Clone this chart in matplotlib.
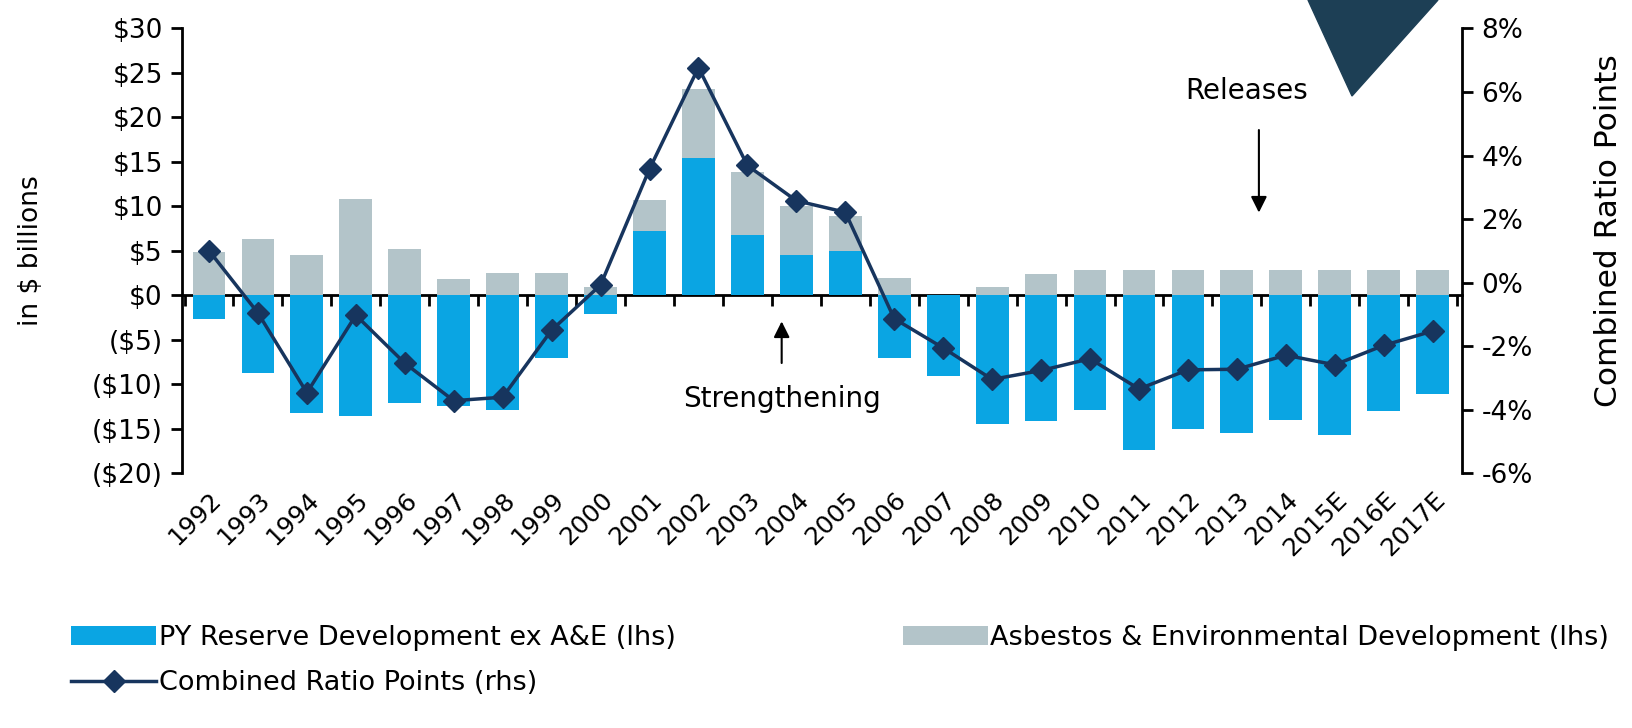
import matplotlib.pyplot as plt
from matplotlib.patches import Polygon
from matplotlib.ticker import FuncFormatter
import numpy as np

years = ["1992", "1993", "1994", "1995", "1996", "1997", "1998", "1999", "2000",
         "2001", "2002", "2003", "2004", "2005", "2006", "2007", "2008", "2009",
         "2010", "2011", "2012", "2013", "2014", "2015E", "2016E", "2017E"]
py_reserve = [-2.65, -8.7, -13.2, -13.5, -12.05, -12.4, -12.9, -7.0, -2.05,
              7.3, 15.5, 6.8, 4.5, 5.0, -7.0, -9.1, -14.4, -14.1,
              -12.9, -17.4, -15.0, -15.4, -14.0, -15.7, -13.0, -11.1]
asbestos = [4.9, 6.4, 4.6, 10.8, 5.2, 1.85, 2.5, 2.5, 1.0,
            3.4, 7.7, 7.1, 5.5, 3.9, 2.0, 0.0, 1.0, 2.4,
            2.9, 2.9, 2.9, 2.9, 2.9, 2.9, 2.9, 2.9]
ratio_pts = [1.01, -0.95, -3.46, -1.02, -2.53, -3.71, -3.6, -1.49, -0.07,
             3.58, 6.77, 3.69, 2.58, 2.22, -1.13, -2.05, -3.04, -2.76,
             -2.39, -3.34, -2.74, -2.72, -2.28, -2.58, -1.97, -1.52]

BLUE = '#0AA5E3'
GREY = '#B3C4C9'
NAVY = '#17355E'

fig = plt.figure(figsize=(16.33, 7.28), dpi=100)
ax = fig.add_axes([0.1115, 0.3496, 0.7838, 0.6113])

x = np.arange(len(years))
py = np.array(py_reserve)
ae = np.array(asbestos)
# grey stacks on the blue bar when that is positive, else starts at zero
ae_base = np.where(py > 0, py, 0)

b1 = ax.bar(x, py, width=0.67, color=BLUE, label='PY Reserve Development ex A&E (lhs)', zorder=2)
b2 = ax.bar(x, ae, bottom=ae_base, width=0.67, color=GREY,
            label='Asbestos & Environmental Development (lhs)', zorder=2)

ax.set_xlim(-0.55, len(years) - 0.4)
ax.set_ylim(-20, 30)
ax.set_yticks(np.arange(-20, 31, 5))
ax.yaxis.set_major_formatter(FuncFormatter(
    lambda v, p: f"${v:.0f}" if v >= 0 else f"(${-v:.0f})"))
ax.tick_params(axis='y', direction='out', length=8, width=2, labelsize=19, pad=6)
ax.set_ylabel('in $ billions', fontsize=19)
ax.yaxis.set_label_coords(-0.108, 0.5)

for s in ['top', 'right', 'bottom']:
    ax.spines[s].set_visible(False)
ax.spines['left'].set_linewidth(2)

ax.set_xticks(x)
ax.set_xticklabels(years, rotation=45, ha='right', rotation_mode='anchor', fontsize=18)
ax.tick_params(axis='x', length=0, pad=10)

# zero line with tick marks between the categories
zero = ax.secondary_xaxis(20 / 50)
zero.set_xticks(np.arange(-0.5, len(years), 1.0))
zero.set_xticklabels([])
zero.tick_params(direction='out', length=8, width=2)
zero.spines['bottom'].set_linewidth(2)

ax2 = ax.twinx()
ln, = ax2.plot(x, ratio_pts, color=NAVY, lw=2.5, marker='D', markersize=11,
               label='Combined Ratio Points (rhs)', zorder=3)
ax2.set_ylim(-6, 8)
ax2.set_yticks(np.arange(-6, 9, 2))
ax2.yaxis.set_major_formatter(FuncFormatter(lambda v, p: f"{v:.0f}%"))
ax2.tick_params(axis='y', direction='out', length=8, width=2, labelsize=19, pad=6)
ax2.set_ylabel('Combined Ratio Points', fontsize=22.5)
ax2.yaxis.set_label_coords(1.103, 0.545)
for s in ['top', 'left', 'bottom']:
    ax2.spines[s].set_visible(False)
ax2.spines['right'].set_linewidth(2)

ax.annotate('', xy=(21.45, 9.0), xytext=(21.45, 18.9),
            arrowprops=dict(arrowstyle='-|>', color='black', lw=1.5, mutation_scale=24))
ax.text(21.2, 23.0, 'Releases', ha='center', va='center', fontsize=20)
ax.annotate('', xy=(11.7, -2.6), xytext=(11.7, -7.9),
            arrowprops=dict(arrowstyle='-|>', color='black', lw=1.5, mutation_scale=24))
ax.text(11.7, -11.6, 'Strengthening', ha='center', va='center', fontsize=20)

# decorative dark triangle in the top right corner
fig.patches.append(Polygon([(1308 / 1633, 1.0), (1438 / 1633, 1.0), (1352 / 1633, 1 - 96 / 728)],
                           closed=True, transform=fig.transFigure, color='#1D3F55', zorder=5))

fig.legend([b1, ln, b2], [b1.get_label(), ln.get_label(), b2.get_label()],
           loc='upper left', bbox_to_anchor=(0.0435, 0.141), ncol=2, frameon=False,
           fontsize=19.5, handlelength=3.15, handletextpad=0.08, columnspacing=8.4,
           labelspacing=0.7, borderpad=0, borderaxespad=0)

fig.savefig('out.png', dpi=100)
